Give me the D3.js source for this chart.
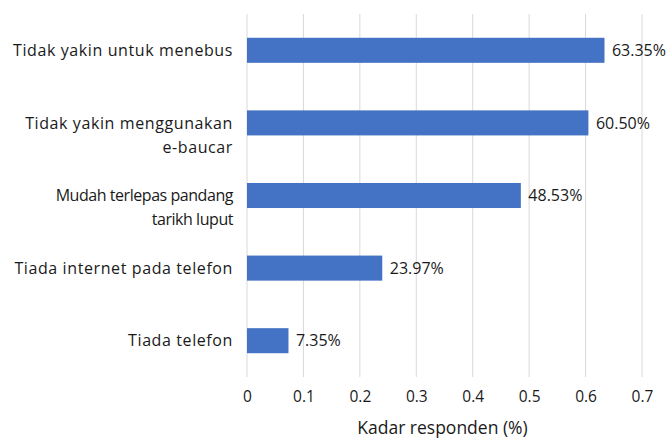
<!DOCTYPE html>
<html>
<head>
<meta charset="utf-8">
<script src="https://cdn.jsdelivr.net/npm/d3@7"></script>
<style>
  body { margin: 0; background: #fff; }
  svg { display: block; }
  .cat { font-family: "Open Sans", sans-serif; font-size: 16px; letter-spacing: 0.6px; fill: #1a1a1a; }
  .cat.tight { letter-spacing: -0.45px; }
  .val { font-family: "Open Sans", sans-serif; font-size: 16px; fill: #1a1a1a; }
  .tick text { font-family: "Open Sans", sans-serif; font-size: 15.5px; fill: #1a1a1a; }
  .title { font-family: "Open Sans", sans-serif; font-size: 17.5px; fill: #1a1a1a; }
</style>
</head>
<body>
<svg id="chart" width="666" height="439"></svg>
<script>
// data
var categories = [
  ["Tidak yakin untuk menebus"],
  ["Tidak yakin menggunakan", "e-baucar"],
  ["Mudah terlepas pandang", "tarikh luput"],
  ["Tiada internet pada telefon"],
  ["Tiada telefon"]
];
var values = [0.6335, 0.6050, 0.4853, 0.2397, 0.0735];
var valueLabels = ["63.35%", "60.50%", "48.53%", "23.97%", "7.35%"];
var xTicks = [0, 0.1, 0.2, 0.3, 0.4, 0.5, 0.6, 0.7];
var xTitle = "Kadar responden (%)";

var svg = d3.select("#chart");
var plot = {left: 247, right: 642, top: 14, bottom: 377};

var x = d3.scaleLinear().domain([0, 0.7]).range([plot.left, plot.right]);
var y = d3.scaleBand().domain(d3.range(values.length)).range([plot.top, plot.bottom]).paddingInner(0.655).paddingOuter(0.3275);

// gridlines
svg.append("g").selectAll("line").data(xTicks).enter().append("line")
  .attr("x1", function (d) { return x(d); })
  .attr("x2", function (d) { return x(d); })
  .attr("y1", plot.top).attr("y2", plot.bottom)
  .attr("stroke", "#d9d9d9").attr("stroke-width", 1);

// bars
svg.append("g").selectAll("rect").data(values).enter().append("rect")
  .attr("x", x(0))
  .attr("y", function (d, i) { return y(i); })
  .attr("width", function (d) { return x(d) - x(0); })
  .attr("height", y.bandwidth())
  .attr("fill", "#4472c4");

// value labels
svg.append("g").selectAll("text").data(values).enter().append("text")
  .attr("class", "val")
  .attr("x", function (d) { return x(d) + 7.5; })
  .attr("y", function (d, i) { return y(i) + y.bandwidth() / 2; })
  .attr("dy", "0.36em")
  .text(function (d, i) { return valueLabels[i]; });

// category labels
var cat = svg.append("g").selectAll("text").data(categories).enter().append("text")
  .attr("class", function (d, i) { return i == 2 ? "cat tight" : "cat"; })
  .attr("text-anchor", "end")
  .attr("y", function (d, i) { return y(i) + y.bandwidth() / 2; });
cat.selectAll("tspan").data(function (d) { return d; }).enter().append("tspan")
  .attr("x", plot.left - 14)
  .attr("dy", function (d, j) { return j == 0 ? "0.36em" : "1.5em"; })
  .text(function (d) { return d; });

// x axis
var xAxis = d3.axisBottom(x).tickValues(xTicks).tickSize(0).tickPadding(14)
  .tickFormat(function (d) { return d == 0 ? "0" : d3.format(".1f")(d); });
svg.append("g").attr("transform", "translate(0," + plot.bottom + ")").call(xAxis)
  .call(function (g) { g.select(".domain").remove(); });

svg.append("text").attr("class", "title")
  .attr("x", (plot.left + plot.right) / 2 - 2)
  .attr("y", 434)
  .attr("text-anchor", "middle")
  .text(xTitle);
</script>
</body>
</html>
